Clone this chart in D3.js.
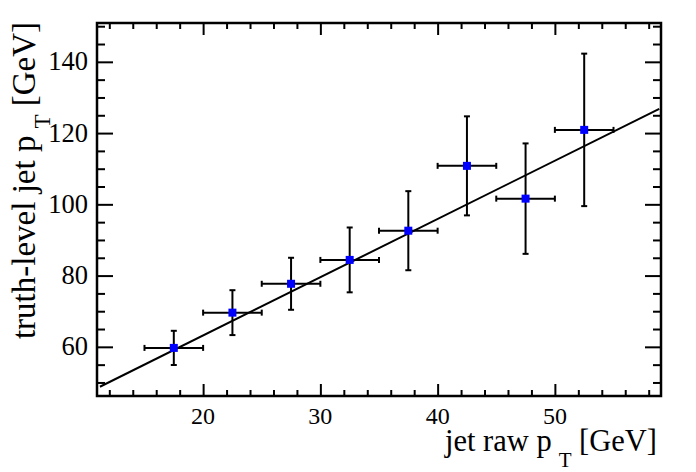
<!DOCTYPE html>
<html>
<head>
    <meta charset="utf-8">
    <script src="https://cdn.jsdelivr.net/npm/d3@7"></script>
    <style>
        body { margin: 0; background: #fff; }
        text { font-family: "Liberation Serif", "DejaVu Serif", serif; fill: #000; }
    </style>
</head>
<body>
    <div id="plot"></div>
    <script type="text/javascript">
    // bin centres (jet raw pT) and half widths
    var rawPt = [17.5, 22.5, 27.5, 32.5, 37.5, 42.5, 47.5, 52.5];
    var rawPtErr = [2.5, 2.5, 2.5, 2.5, 2.5, 2.5, 2.5, 2.5];
    // truth-level pT mean and error
    var truthPt = [59.7, 69.6, 77.7, 84.4, 92.6, 110.8, 101.6, 120.9];
    var truthPtErr = [4.8, 6.3, 7.3, 9.1, 11.1, 13.9, 15.5, 21.4];
    // fitted straight line, end points
    var fitX = [11.2, 58.9];
    var fitY = [48.8, 126.8];
    // axes
    var xTicks = [20, 30, 40, 50];
    var yTicks = [60, 80, 100, 120, 140];
    var xMinor = d3.range(12, 59, 2);
    var yMinor = d3.range(50, 151, 5);

    var W = 696, H = 472;
    var frame = { left: 97, right: 661, top: 23, bottom: 396 };
    var serif = "'Liberation Serif', 'DejaVu Serif', serif";

    var svg = d3.select("#plot")
        .append("svg")
        .attr("width", W)
        .attr("height", H);

    svg.append("rect").attr("width", W).attr("height", H).attr("fill", "#fff");

    var xScale = d3.scaleLinear().domain([10.95, 59.05]).range([frame.left, frame.right]);
    var yScale = d3.scaleLinear().domain([46.2, 150.9]).range([frame.bottom, frame.top]);

    var plotH = frame.bottom - frame.top, plotW = frame.right - frame.left;

    // ticks point inwards, on all four sides (ROOT style)
    var fmt = d3.format("d");
    var xMajLen = 12, xMinLen = 6, yMajLen = 16, yMinLen = 8;

    function xAxisAt(y, dir, vals, len) {
        var ax = (dir > 0 ? d3.axisTop(xScale) : d3.axisBottom(xScale))
            .tickValues(vals).tickSizeInner(len).tickSizeOuter(0).tickFormat("");
        var g = svg.append("g").attr("transform", "translate(0," + y + ")").call(ax);
        g.select(".domain").remove();
        g.selectAll("line").attr("stroke", "#000").attr("stroke-width", 2);
    }
    function yAxisAt(x, dir, vals, len) {
        var ax = (dir > 0 ? d3.axisLeft(yScale) : d3.axisRight(yScale))
            .tickValues(vals).tickSizeInner(len).tickSizeOuter(0).tickFormat("");
        var g = svg.append("g").attr("transform", "translate(" + x + ",0)").call(ax);
        g.select(".domain").remove();
        g.selectAll("line").attr("stroke", "#000").attr("stroke-width", 2);
    }
    var xMin = xMinor.filter(v => xTicks.indexOf(v) < 0);
    var yMin = yMinor.filter(v => yTicks.indexOf(v) < 0);
    // bottom / top
    xAxisAt(frame.bottom, 1, xMin, xMinLen);
    xAxisAt(frame.bottom, 1, xTicks, xMajLen);
    xAxisAt(frame.top, -1, xMin, xMinLen);
    xAxisAt(frame.top, -1, xTicks, xMajLen);
    // left / right
    yAxisAt(frame.left, -1, yMin, yMinLen);
    yAxisAt(frame.left, -1, yTicks, yMajLen);
    yAxisAt(frame.right, 1, yMin, yMinLen);
    yAxisAt(frame.right, 1, yTicks, yMajLen);

    // tick labels
    svg.selectAll(".xl")
        .data(xTicks)
        .enter()
        .append("text")
        .attr("x", d => xScale(d))
        .attr("y", 424)
        .attr("text-anchor", "middle")
        .style("font-family", serif)
        .style("font-size", "24px")
        .text(d => fmt(d));

    svg.selectAll(".yl")
        .data(yTicks)
        .enter()
        .append("text")
        .attr("x", 88)
        .attr("y", d => yScale(d) + 8.5)
        .attr("text-anchor", "end")
        .style("font-family", serif)
        .style("font-size", "26.5px")
        .text(d => fmt(d));

    // frame
    svg.append("rect")
        .attr("x", frame.left)
        .attr("y", frame.top)
        .attr("width", plotW)
        .attr("height", plotH)
        .attr("fill", "none")
        .attr("stroke", "#000")
        .attr("stroke-width", 2.5);

    // fit line
    var line = d3.line()
        .x(d => xScale(d[0]))
        .y(d => yScale(d[1]));
    svg.append("path")
        .datum(d3.zip(fitX, fitY))
        .attr("d", line)
        .attr("fill", "none")
        .attr("stroke", "#000")
        .attr("stroke-width", 2);

    // error bars with small end caps
    var pts = rawPt.map((x, i) => ({ x: x, ex: rawPtErr[i], y: truthPt[i], ey: truthPtErr[i] }));
    var cap = 3;
    var eb = svg.selectAll(".eb")
        .data(pts)
        .enter()
        .append("g")
        .attr("stroke", "#000")
        .attr("stroke-width", 2);
    eb.append("line")
        .attr("x1", d => xScale(d.x - d.ex)).attr("x2", d => xScale(d.x + d.ex))
        .attr("y1", d => yScale(d.y)).attr("y2", d => yScale(d.y));
    eb.append("line")
        .attr("x1", d => xScale(d.x)).attr("x2", d => xScale(d.x))
        .attr("y1", d => yScale(d.y - d.ey)).attr("y2", d => yScale(d.y + d.ey));
    [-1, 1].forEach(function (s) {
        eb.append("line")
            .attr("x1", d => xScale(d.x + s * d.ex)).attr("x2", d => xScale(d.x + s * d.ex))
            .attr("y1", d => yScale(d.y) - cap).attr("y2", d => yScale(d.y) + cap);
        eb.append("line")
            .attr("x1", d => xScale(d.x) - cap).attr("x2", d => xScale(d.x) + cap)
            .attr("y1", d => yScale(d.y + s * d.ey)).attr("y2", d => yScale(d.y + s * d.ey));
    });

    // markers
    svg.selectAll(".m")
        .data(pts)
        .enter()
        .append("rect")
        .attr("x", d => xScale(d.x) - 4)
        .attr("y", d => yScale(d.y) - 4)
        .attr("width", 8)
        .attr("height", 8)
        .attr("fill", "#0000ff");

    // axis titles
    var xt = svg.append("text")
        .attr("x", 657)
        .attr("y", 451)
        .attr("text-anchor", "end")
        .style("font-family", serif)
        .style("font-size", "30.5px");
    xt.append("tspan").text("jet raw p");
    xt.append("tspan").attr("dx", 7).attr("dy", 16).style("font-size", "21px").text("T");
    xt.append("tspan").attr("dy", -16).text(" [GeV]");

    var yt = svg.append("text")
        .attr("transform", "translate(35,22) rotate(-90)")
        .attr("text-anchor", "end")
        .style("font-family", serif)
        .style("font-size", "33px");
    yt.append("tspan").text("truth-level jet p");
    yt.append("tspan").attr("dx", 7).attr("dy", 15).style("font-size", "23px").text("T");
    yt.append("tspan").attr("dy", -15).text(" [GeV]");
    </script>
</body>
</html>
